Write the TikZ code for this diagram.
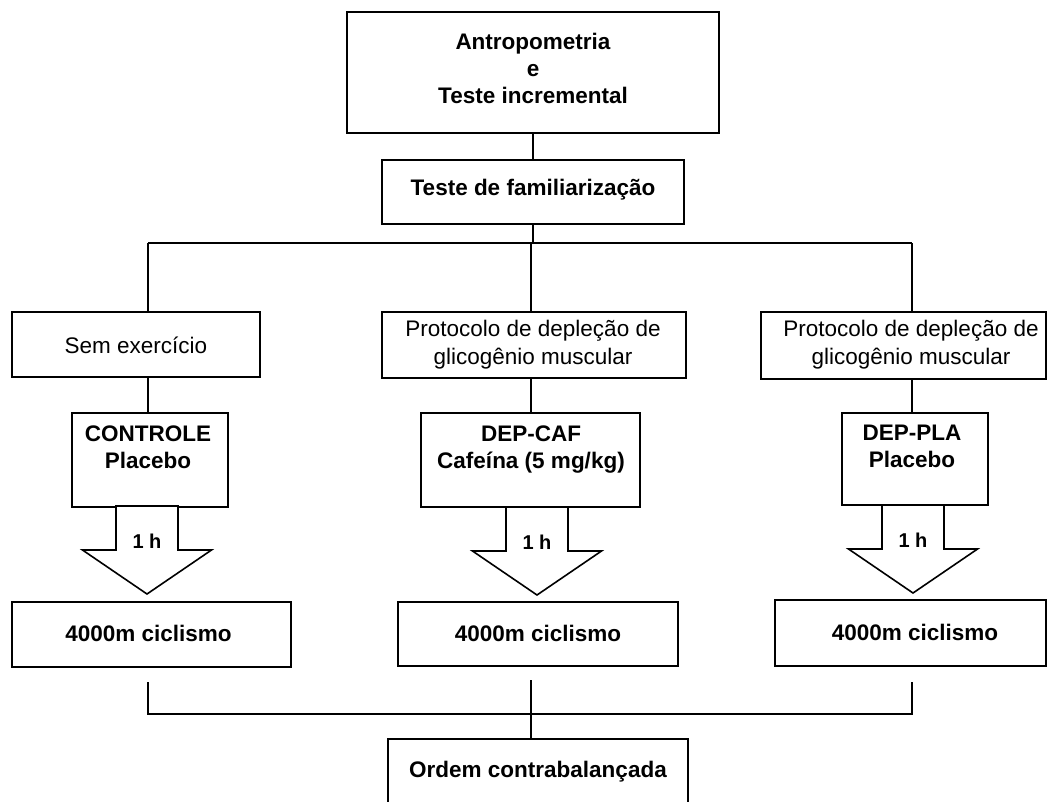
\documentclass[tikz,border=0pt]{standalone}
\usepackage{fontspec}
\setmainfont{Liberation Sans}
\begin{document}
\begin{tikzpicture}[x=1pt,y=-1pt,
  box/.style={draw=black, line width=1.2pt, fill=white, inner sep=0pt},
  conn/.style={draw=black, line width=2pt},
  arrowline/.style={draw=black, line width=1.6pt, fill=white, line join=miter},
  tb/.style={font=\fontsize{22.5}{27}\selectfont\bfseries, align=center, inner sep=0pt},
  tr/.style={font=\fontsize{22.5}{28}\selectfont, align=center, inner sep=0pt},
  hlabel/.style={font=\fontsize{20}{24}\selectfont\bfseries, inner sep=0pt},
  downarrow/.pic={
    \draw[arrowline] (-31,0) -- (31,0) -- (31,44) -- (64.5,44) -- (0,88) -- (-64.5,44) -- (-31,44) -- cycle;
    \node[hlabel] (-lbl) at (0,35) {1 h};
  }]
\clip (0,0) rectangle (1048,801);
\fill[white] (0,0) rectangle (1048,801);

% boxes
\node[box, minimum width=372pt, minimum height=121pt] (top) at (533,72.5) {};
\node[tb] (toptxt) at (533,68) {Antropometria\\e\\Teste incremental};
\node[box, minimum width=302pt, minimum height=64pt] (fam) at (533,192) {};
\node[tb] (famtxt) at (533,190) {Teste de familiariza\c{c}\~ao};

\node[box, minimum width=248pt, minimum height=65pt] (sem) at (136,344.5) {};
\node[tr] (semtxt) at (136,345) {Sem exerc\'icio};
\node[box, minimum width=304pt, minimum height=66pt] (pm) at (534,345) {};
\node[tr] (pmtxt) at (533,345) {Protocolo de deple\c{c}\~ao de\\glicog\^enio muscular};
\node[box, minimum width=285pt, minimum height=67pt] (pr) at (903.5,345.5) {};
\node[tr] (prtxt) at (911,345) {Protocolo de deple\c{c}\~ao de\\glicog\^enio muscular};

\node[box, minimum width=156pt, minimum height=94pt] (ctrl) at (150,460) {};
\node[tb] (ctrltxt) at (148,447.5) {CONTROLE\\Placebo};
\node[box, minimum width=219pt, minimum height=94pt] (caf) at (530.5,460) {};
\node[tb] (caftxt) at (531,449.5) {DEP-CAF\\Cafe\'ina (5 mg/kg)};
\node[box, minimum width=146pt, minimum height=92pt] (pla) at (915,459) {};
\node[tb] (platxt) at (912,446.5) {DEP-PLA\\Placebo};

% arrows
\pic (a1) at (147,506) {downarrow};
\pic (a2) at (537,507) {downarrow};
\pic (a3) at (913,505) {downarrow};

\node[box, minimum width=279pt, minimum height=65pt] (c1) at (151.5,634.5) {};
\node[tb] (c1txt) at (148.5,633) {4000m ciclismo};
\node[box, minimum width=280pt, minimum height=64pt] (c2) at (538,634) {};
\node[tb] (c2txt) at (538,633) {4000m ciclismo};
\node[box, minimum width=271pt, minimum height=66pt] (c3) at (910.5,633) {};
\node[tb] (c3txt) at (915,632) {4000m ciclismo};

\node[box, minimum width=300pt, minimum height=91pt] (ord) at (538,784.5) {};
\node[tb] (ordtxt) at (538,772) {Ordem contrabalan\c{c}ada};

% upper connectors
\coordinate (busL) at (148,243);
\coordinate (busM) at (531,243);
\coordinate (busR) at (912,243);
\draw[conn] (top.south) -- (fam.north);
\draw[conn] (fam.south) -- (fam.south |- busL);
\draw[conn] (busL) -- (busR);
\draw[conn] (busL) -- (busL |- sem.north);
\draw[conn] (busM) -- (busM |- pm.north);
\draw[conn] (busR) -- (busR |- pr.north);
\draw[conn] (busL |- sem.south) -- (busL |- ctrl.north);
\draw[conn] (busM |- pm.south) -- (busM |- caf.north);
\draw[conn] (busR |- pr.south) -- (busR |- pla.north);

% lower connectors
\coordinate (b1) at (148,682);
\coordinate (b2) at (531,680);
\coordinate (b3) at (912,682);
\coordinate (j1) at (148,714);
\coordinate (j2) at (531,714);
\coordinate (j3) at (912,714);
\draw[conn] (b1) -- (j1) -- (j3) -- (b3);
\draw[conn] (b2) -- (j2);
\draw[conn] (j2) -- (j2 |- ord.north);
\end{tikzpicture}
\end{document}
